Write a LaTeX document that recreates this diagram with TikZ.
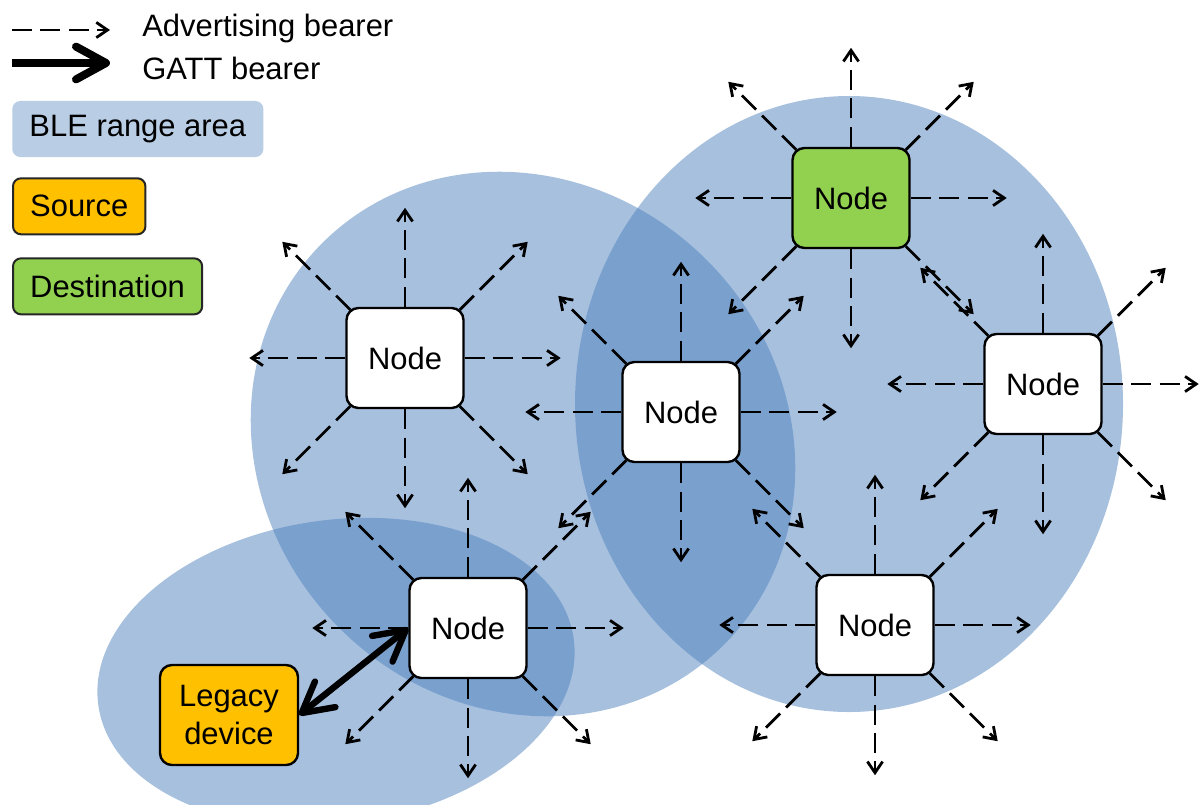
\documentclass[tikz,border=0pt]{standalone}
\usepackage{fontspec}
\setmainfont{Liberation Sans}
\usetikzlibrary{positioning,arrows.meta}

\definecolor{bleblue}{HTML}{4F81BD}
\definecolor{legendblue}{HTML}{B9CDE5}
\definecolor{srcorange}{HTML}{FFC000}
\definecolor{dstgreen}{HTML}{92D050}

\tikzset{
    ble node/.style={
        rectangle,
        rounded corners=3mm,
        draw=black,
        line width=0.06cm,
        fill=white,
        align=center,
        minimum width=2.925cm,
        minimum height=2.5cm,
        font=\fontsize{22}{27}\selectfont,
    },
    legend box/.style={
        rectangle,
        rounded corners=2mm,
        minimum height=1.4cm,
        inner xsep=0.43cm,
        font=\fontsize{22}{26}\selectfont,
    },
    legend text/.style={
        anchor=base west,
        inner sep=0pt,
        font=\fontsize{22}{26}\selectfont,
    },
    src/.style={
        draw=black!85,
        line width=0.05cm,
        fill=srcorange,
    },
    dst/.style={
        draw=black!85,
        line width=0.05cm,
        fill=dstgreen,
    },
    range area/.style={
        fill=bleblue,
        fill opacity=0.5,
    },
    adv/.style={
        line width=0.07cm,
        dash pattern=on 0.5cm off 0.21cm,
        -{Straight Barb[length=0.28cm,width=0.38cm]},
    },
    gatt/.style={
        line width=#1,
        >={Straight Barb[length=0.75cm,width=0.82cm,round]},
    },
}

\begin{document}
\begin{tikzpicture}[x=0.025cm,y=-0.025cm]
    \useasboundingbox (0,0) rectangle (1200,804);
    % range areas
    \fill[range area,rotate around={-45:(523,444)}] (523,444) ellipse [x radius=284,y radius=260];
    \fill[range area] (849,404) ellipse [x radius=274,y radius=308];
    \fill[range area,rotate around={8:(336,672)}] (336,672) ellipse [x radius=240,y radius=152];
    % legend
    \coordinate (adv0) at (12,30);
    \coordinate (adv1) at (110,30);
    \draw[adv] (adv0) -- (adv1);
    \node[legend text](advtxt) at (142,36) {Advertising bearer};
    \coordinate (gatt0) at (12,63);
    \coordinate (gatt1) at (110,63);
    \draw[gatt=0.2cm,->] (gatt0) -- (gatt1);
    \node[legend text](gatttxt) at (142,79) {GATT bearer};
    \node[legend box,fill=legendblue,anchor=west](ble) at (12,129) {BLE range area};
    \node[legend box,src,below=0.5cm of ble.south west,anchor=north west](source) {Source};
    \node[legend box,dst,below=0.55cm of source.south west,anchor=north west](dest) {Destination};
    % mesh nodes
    \node[ble node](n1) at (405,358) {Node};
    \node[ble node](n2) at (681,412) {Node};
    \node[ble node,fill=dstgreen](n3) at (851,198) {Node};
    \node[ble node](n4) at (1043,384) {Node};
    \node[ble node](n5) at (875,625) {Node};
    \node[ble node](n6) at (468,628) {Node};
    \node[ble node,fill=srcorange,minimum width=3.45cm](legacy) at (229,715) {Legacy\\device};
    % advertising bearers
    \foreach \n in {n1,n2,n3,n4,n5,n6}{
        \draw[adv] (\n.east) -- ++(96,0);
        \draw[adv] (\n.west) -- ++(-96,0);
        \draw[adv] (\n.north) -- ++(0,-99);
        \draw[adv] (\n.south) -- ++(0,99);
        \foreach \c/\sx/\sy in {north east/1/-1,north west/-1/-1,south east/1/1,south west/-1/1}
            \draw[adv] ([shift={(-5*\sx,-3*\sy)}]\n.\c) -- ++(68*\sx,68*\sy);
    }
    % gatt bearer
    \draw[gatt=0.16cm,<->] (legacy.east) -- (n6.west);
\end{tikzpicture}
\end{document}
